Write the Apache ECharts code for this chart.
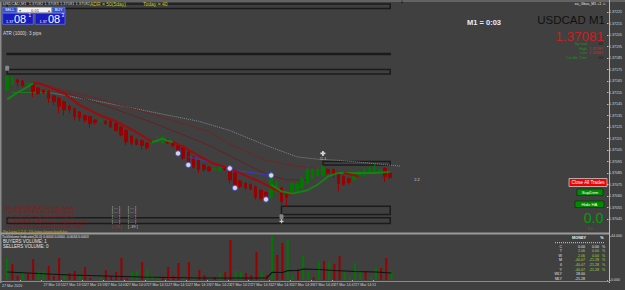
<!DOCTYPE html>
<html>
<head>
<meta charset="utf-8">
<title>USDCAD M1</title>
<script src="https://cdn.jsdelivr.net/npm/echarts@6.0.0/dist/echarts.min.js"></script>
<style>
html, body { margin: 0; padding: 0; background: #404040; }
#chart { width: 625px; height: 290px; }
</style>
</head>
<body>
<div id="chart"></div>
<script>
var chart = echarts.init(document.getElementById('chart'), null, { renderer: 'svg' });

// M1 candles, oldest first: [open, close, low, high]
var candles = [
  [1.37157, 1.37169, 1.37156, 1.37170], [1.37162, 1.37168, 1.37161, 1.37169],
  [1.37166, 1.37164, 1.37160, 1.37167], [1.37165, 1.37161, 1.37160, 1.37166],
  [1.37162, 1.37163, 1.37161, 1.37164], [1.37162, 1.37156, 1.37151, 1.37163],
  [1.37159, 1.37154, 1.37153, 1.37160], [1.37157, 1.37155, 1.37154, 1.37158],
  [1.37156, 1.37150, 1.37146, 1.37157], [1.37152, 1.37147, 1.37144, 1.37153],
  [1.37150, 1.37143, 1.37137, 1.37151], [1.37147, 1.37140, 1.37135, 1.37148],
  [1.37143, 1.37140, 1.37137, 1.37144], [1.37141, 1.37134, 1.37131, 1.37142],
  [1.37138, 1.37133, 1.37130, 1.37139], [1.37135, 1.37131, 1.37129, 1.37136],
  [1.37134, 1.37128, 1.37124, 1.37135], [1.37131, 1.37129, 1.37127, 1.37132],
  [1.37130, 1.37131, 1.37129, 1.37132], [1.37130, 1.37128, 1.37127, 1.37131],
  [1.37130, 1.37125, 1.37124, 1.37131], [1.37128, 1.37122, 1.37121, 1.37129],
  [1.37125, 1.37118, 1.37117, 1.37126], [1.37122, 1.37112, 1.37109, 1.37123],
  [1.37117, 1.37111, 1.37109, 1.37118], [1.37114, 1.37110, 1.37109, 1.37115],
  [1.37113, 1.37109, 1.37105, 1.37114], [1.37111, 1.37107, 1.37105, 1.37112],
  [1.37111, 1.37112, 1.37110, 1.37113], [1.37112, 1.37114, 1.37111, 1.37117],
  [1.37111, 1.37115, 1.37110, 1.37117], [1.37114, 1.37111, 1.37110, 1.37115],
  [1.37112, 1.37109, 1.37107, 1.37113], [1.37109, 1.37104, 1.37103, 1.37110],
  [1.37107, 1.37098, 1.37096, 1.37108], [1.37103, 1.37093, 1.37092, 1.37104],
  [1.37099, 1.37090, 1.37089, 1.37100], [1.37096, 1.37088, 1.37085, 1.37097],
  [1.37092, 1.37088, 1.37086, 1.37093], [1.37090, 1.37087, 1.37086, 1.37091],
  [1.37088, 1.37089, 1.37087, 1.37090], [1.37087, 1.37090, 1.37086, 1.37091],
  [1.37089, 1.37088, 1.37087, 1.37091], [1.37089, 1.37079, 1.37076, 1.37090],
  [1.37085, 1.37072, 1.37070, 1.37086], [1.37078, 1.37073, 1.37072, 1.37079],
  [1.37076, 1.37072, 1.37070, 1.37077], [1.37075, 1.37071, 1.37070, 1.37076],
  [1.37073, 1.37064, 1.37062, 1.37074], [1.37070, 1.37063, 1.37061, 1.37071],
  [1.37068, 1.37062, 1.37061, 1.37069], [1.37064, 1.37080, 1.37063, 1.37085],
  [1.37069, 1.37077, 1.37068, 1.37078], [1.37072, 1.37060, 1.37056, 1.37073],
  [1.37067, 1.37064, 1.37056, 1.37068], [1.37069, 1.37076, 1.37067, 1.37077],
  [1.37070, 1.37075, 1.37069, 1.37077], [1.37072, 1.37080, 1.37071, 1.37082],
  [1.37076, 1.37088, 1.37075, 1.37091], [1.37081, 1.37088, 1.37080, 1.37089],
  [1.37083, 1.37088, 1.37082, 1.37090], [1.37083, 1.37090, 1.37082, 1.37092],
  [1.37088, 1.37085, 1.37084, 1.37089], [1.37088, 1.37083, 1.37081, 1.37089],
  [1.37085, 1.37076, 1.37069, 1.37086], [1.37082, 1.37075, 1.37074, 1.37083],
  [1.37080, 1.37077, 1.37075, 1.37081], [1.37079, 1.37082, 1.37078, 1.37083],
  [1.37082, 1.37086, 1.37081, 1.37087], [1.37083, 1.37088, 1.37082, 1.37089],
  [1.37085, 1.37089, 1.37084, 1.37090], [1.37086, 1.37090, 1.37085, 1.37093],
  [1.37086, 1.37088, 1.37085, 1.37089], [1.37089, 1.37082, 1.37077, 1.37090],
  [1.37085, 1.37081, 1.37080, 1.37086]
];

// tick volume per candle, and colour flag (1 = buyers / green)
var volumes = [22, 16, 4, 8, 6, 21, 9, 9, 14, 4, 22, 4, 7, 9, 5, 13, 2, 1, 2, 10,
  4, 8, 22, 2, 8, 9, 18, 11, 4, 2, 2, 13, 4, 17, 2, 18, 2, 10, 5, 3,
  3, 7, 8, 40, 9, 8, 7, 5, 28, 9, 5, 44, 25, 37, 40, 5, 11, 24, 9, 3,
  19, 19, 19, 16, 24, 9, 3, 17, 8, 9, 3, 12, 12, 22, 9];
var volumeUp = [1, 0, 0, 1, 0, 0, 1, 1, 0, 0, 0, 1, 0, 0, 1, 0, 0, 1, 1, 0,
  0, 0, 0, 0, 1, 1, 0, 1, 1, 1, 0, 0, 0, 0, 1, 0, 1, 0, 0, 1,
  0, 1, 0, 0, 1, 1, 0, 0, 0, 1, 0, 1, 0, 0, 1, 1, 0, 1, 1, 0,
  1, 0, 1, 0, 0, 1, 1, 1, 1, 0, 1, 1, 0, 0, 1];
var volumeMa = [[0, 8], [2, 7.5], [6, 6.5], [12, 5], [19, 4], [26, 3], [37, 2], [50, 2],
  [51, 7.7], [53, 7.5], [54, 9.3], [56, 9.5], [57, 11], [60, 10.5], [63, 9.5],
  [67, 8.5], [71, 8], [74, 7]];

// indicator lines on the price chart: [candle index, price]
var fastUpA = [[0, 1.37149], [2, 1.37155], [4, 1.37160], [5, 1.37163]];
var fastDownA = [[5, 1.37163], [6, 1.37163], [8, 1.37160], [11, 1.37154], [14, 1.37144],
  [18, 1.37135], [21, 1.37130], [24, 1.37123], [27, 1.37115], [28, 1.37112]];
var fastUpB = [[28, 1.37112], [29, 1.37113], [30, 1.37115], [31, 1.37113], [32, 1.37112]];
var fastDownB = [[32, 1.37112], [34, 1.37108], [37, 1.37100], [40, 1.37093], [43, 1.37089],
  [46, 1.37083], [49, 1.37077], [52, 1.37070], [55, 1.37066]];
var trendUp = [[51, 1.37075], [53, 1.37069], [55, 1.37067], [58, 1.37070], [60, 1.37075],
  [62, 1.37082], [64, 1.37085], [67, 1.37085], [71, 1.37085], [74, 1.37086]];
var trendDown = [[65, 1.37085], [68, 1.37082]];
var maMid = [[6, 1.37163], [18, 1.37149], [28, 1.37136], [39, 1.37121], [43, 1.37110],
  [50, 1.37096], [56, 1.37091], [60, 1.37089]];
var maSlow = [[8, 1.37160], [18, 1.37145], [28, 1.37129], [39, 1.37109], [43, 1.37100],
  [50, 1.37084], [54, 1.37079], [58, 1.37079]];
var maLongUp = [[1, 1.37155], [5, 1.37155], [8, 1.37155]];
var maLong = [[8, 1.37155], [18, 1.37147], [28, 1.37138], [37, 1.37130], [43, 1.37122],
  [50, 1.37109], [56, 1.37099], [60, 1.37097], [64, 1.37096], [69, 1.37094], [76, 1.37091]];
var blueLine = [[35, 1.37099], [39, 1.37095], [43, 1.37088], [51, 1.37083]];
var signals = [[33, 1.37102], [35, 1.37092], [43, 1.37089], [44, 1.37072], [50, 1.37062], [51, 1.37083]];
var crossMark = [[61, 1.37102]];
var alertIcons = [[0, 1.37176], [53, 1.37047]];
var alertDots = [[53, 1.37043]];

// supply / demand boxes: [top, bottom, first candle]
var zones = [
  [1.37232, 1.37228, -1],
  [1.37189, 1.37188, -1],
  [1.37175, 1.37171, -1],
  [1.37095, 1.37092, 61],
  [1.37056, 1.37049, 53],
  [1.37046, 1.37041, -1]
];

var priceTicks = [1.37225, 1.37215, 1.37205, 1.37195, 1.37185, 1.37175, 1.37165, 1.37155,
  1.37145, 1.37135, 1.37125, 1.37115, 1.37105, 1.37095, 1.37085, 1.37075, 1.37065,
  1.37055, 1.37045];
var lastPrice = 1.37081;
var firstTimeLabel = '27 Mar 2020';
var timeLabels = ['27 Mar 13:47', '27 Mar 13:51', '27 Mar 13:55', '27 Mar 13:59',
  '27 Mar 14:03', '27 Mar 14:07', '27 Mar 14:11', '27 Mar 14:15', '27 Mar 14:19',
  '27 Mar 14:23', '27 Mar 14:27', '27 Mar 14:31', '27 Mar 14:35', '27 Mar 14:39',
  '27 Mar 14:43', '27 Mar 14:47', '27 Mar 14:51', '27 Mar 14:55'];

var news = ['Mon 10:00 GBP BOE Gov Bailey Speaks', 'Tue 05:30 JPY BOJ Gov Kuroda Speaks',
  'Tue 15:45 USD Final Manufacturing PMI', 'Tue 16:00 EUR ECB President Lagarde Speaks',
  'Tue 17:00 USD ISM Manufacturing PMI Index'];
var newsA = ['[ --- ]', '[ --- ]', '[ --- ]', '[ --- ]', '[ -18 ]'];
var newsB = ['[ --- ]', '[ --- ]', '[ --- ]', '[ --- ]', '[ -39 ]'];

var moneyRows = ['C', 'T', 'W', 'M', '6', 'Y', 'WLY', 'MLY'];
var moneyVal = ['0.00', '2.06', '2.06', '-40.07', '-40.07', '-40.07', '18.00', '-21.28'];
var moneyPct = ['0.00', '0.00', '0.00', '-21.28', '-21.28', '-21.28', '', ''];

var RED = '#990000', GREEN = '#007800';
var FONT = 'Liberation Sans, Arial, sans-serif';
var NARROW = 'Liberation Sans Narrow, Liberation Sans, sans-serif';
var slots = 116;   // bar slots incl. the empty shift on the right
var cats = [];
for (var i = 0; i < slots; i++) cats.push(String(i));
var lastIdx = candles.length - 1;
var labelAt = {};
timeLabels.forEach(function (t, k) { labelAt[3 + 4 * k] = t; });

function line(data, color, width, type, z) {
  return {
    type: 'line', xAxisIndex: 0, yAxisIndex: 0, data: data, symbol: 'none',
    lineStyle: { color: color, width: width, type: type || 'solid' }, z: z || 4, silent: true
  };
}

function txt(x, y, text, size, color, opt) {
  opt = opt || {};
  return {
    type: 'text', z: 60,
    style: {
      x: x, y: y, text: text, fill: color, fontSize: size,
      fontFamily: opt.family || FONT, fontWeight: opt.weight || 'normal',
      align: opt.align || 'left', verticalAlign: 'middle'
    }
  };
}
function box(x, y, w, h, fill, stroke, lw) {
  return {
    type: 'rect', z: 55, shape: { x: x, y: y, width: w, height: h },
    style: { fill: fill, stroke: stroke || null, lineWidth: lw || 0 }
  };
}
function rule(x1, y1, x2, y2, color, lw, dash) {
  return {
    type: 'line', z: 56, shape: { x1: x1, y1: y1, x2: x2, y2: y2 },
    style: { stroke: color, lineWidth: lw || 1, lineDash: dash || null }
  };
}

var g = [];
// window frame
g.push(rule(0, 1, 625, 1, '#858585', 1));
g.push(box(401, 0, 2, 3, '#1e1e1e'));
g.push(box(0, 2, 1.5, 281, '#8a8a8a'));
g.push(rule(609.5, 0, 609.5, 283, '#bdbdbd', 1));
g.push(box(0, 232.5, 610, 2, '#9a9a9a'));
g.push(rule(0, 281.5, 610, 281.5, '#8a8a8a', 1));
// header line
g.push(txt(3, 3.5, 'USDCAD,M1  1.37082 1.37083 1.37081 1.37082', 4, '#d8d8d8'));
g.push(txt(90, 4, 'ADR = 50(5day)', 5, '#c8c820'));
g.push(txt(143, 4, 'Today = 40', 5, '#c8c820'));
// one-click trading panel
g.push(box(2.7, 7.3, 14, 5.4, '#3050d8', '#7088e8', 0.6));
g.push(txt(9.7, 10, 'SELL', 3.8, '#ffffff', { align: 'center' }));
g.push(box(17.3, 7.3, 34.4, 5.4, '#f2f2f2', '#9a9a9a', 0.6));
g.push(txt(20, 10, '\u25BE', 4, '#555555', { align: 'center' }));
g.push(txt(35, 10, '0.01', 4, '#333333', { align: 'center' }));
g.push(txt(49, 10, '\u25B4', 4, '#555555', { align: 'center' }));
g.push(box(52.3, 7.3, 12.7, 5.4, '#3050d8', '#7088e8', 0.6));
g.push(txt(58.6, 10, 'BUY', 3.8, '#ffffff', { align: 'center' }));
g.push(box(2.7, 13.3, 30.6, 11, '#1a1ac0', '#6070e0', 0.8));
g.push(box(35, 13.3, 30, 11, '#1a1ac0', '#6070e0', 0.8));
g.push(txt(6, 21.5, '1.37', 3.8, '#ffffff'));
g.push(txt(14, 19.3, '08', 11, '#ffffff', { family: NARROW }));
g.push(txt(28.5, 15.8, '1', 4.5, '#ffffff'));
g.push(txt(39.5, 21.5, '1.37', 3.8, '#ffffff'));
g.push(txt(48, 19.3, '08', 11, '#ffffff', { family: NARROW }));
g.push(txt(61.5, 15.8, '3', 4.5, '#ffffff'));
g.push(txt(3, 33, 'ATR (1000): 3 pips', 4.6, '#dcdcdc'));
// symbol info block
g.push(txt(606, 4, 'ea_Gbas_M1 +1 \u263A', 3.6, '#e6e6e6', { align: 'right' }));
g.push(txt(467, 22, 'M1 = 0:03', 7.5, '#e8e8ff', { family: NARROW, weight: 'bold' }));
g.push(txt(605, 19.5, 'USDCAD M1', 11.5, '#111111', { align: 'right' }));
g.push(txt(604, 36, '1.37081', 13.5, '#c82020', { align: 'right', family: NARROW }));
var infoL = ['Spread', 'High', 'Low', 'Candle Time'];
var infoV = ['02', '1.37287', '1.36887', '04'];
var infoC = ['#1a1a1a', '#c03030', '#c03030', '#1a1a1a'];
[44, 48.6, 53.2, 57.8].forEach(function (y, k) {
  g.push(txt(587, y, infoL[k], 3.8, '#1f8f1f', { align: 'right' }));
  g.push(txt(603, y, infoV[k], 3.8, infoC[k], { align: 'right' }));
});
// panel buttons
g.push(box(569, 178.5, 38, 8, '#f00000', '#c8c8c8', 0.8));
g.push(txt(588, 182.5, 'Close All Trades', 4.6, '#ffffff', { align: 'center' }));
g.push(box(577, 189, 26, 6.5, '#008a00', '#003c00', 0.8));
g.push(txt(590, 192.3, 'SupDem', 4.3, '#ffffff', { align: 'center' }));
g.push(box(575, 201, 29, 6.5, '#008a00', '#003c00', 0.8));
g.push(txt(589.5, 204.3, 'Hide HA', 4.3, '#ffffff', { align: 'center' }));
g.push(txt(593.5, 218, '0.0', 14, '#00a000', { align: 'center', family: NARROW }));
g.push(txt(590, 229, '-3.5', 3.6, '#00a000', { align: 'center' }));
g.push(txt(417, 179.5, '2.2', 4, '#d0d0d0', { align: 'center' }));
// news block
news.forEach(function (n, k) {
  var y = 207.5 + 4.9 * k;
  g.push(txt(6, y, n, 3.8, '#9b1010'));
  g.push(txt(112, y, newsA[k], 3.8, k === 4 ? '#c03030' : '#c8c8c8'));
  g.push(txt(128, y, newsB[k], 3.8, '#c8c8c8'));
});
g.push(txt(3, 232.2, 'Pip Long 1.2.3 ; 1% https://www.fxsoft.biz', 3.5, '#d0a000'));
// volume window texts
g.push(txt(2, 237.2, 'TickVolume Indicator(20,0) 0.0000 0.0000 -0.0034 0.0003', 3.4, '#e0e0e0'));
g.push(txt(3, 241.9, 'BUYERS VOLUME: 1', 4.5, '#e4e4e4'));
g.push(txt(3, 246.8, 'SELLERS VOLUME: 0', 4.5, '#e4e4e4'));
g.push(txt(2, 285.5, firstTimeLabel, 3.6, '#d0d0d0'));
// money table
g.push(txt(579, 238.3, 'MONEY', 3.8, '#f0f0f0', { align: 'center', weight: 'bold' }));
g.push(txt(602, 238.3, '%', 3.8, '#f0f0f0', { align: 'center', weight: 'bold' }));
g.push(rule(555, 242.7, 605, 242.7, '#cfcfcf', 1, [1, 1]));
[246.7, 251, 255.7, 260.3, 265, 269.7, 274, 278.7].forEach(function (y, k) {
  var col = (k === 0 || k > 5) ? '#e8e8e8' : '#a8d040';
  g.push(txt(562, y, moneyRows[k], 3.6, '#e0e0e0', { align: 'right' }));
  g.push(txt(585, y, moneyVal[k], 3.6, col, { align: 'right' }));
  if (moneyPct[k]) {
    g.push(txt(599, y, moneyPct[k], 3.6, col, { align: 'right' }));
    g.push(txt(603.5, y, '%', 3.6, col, { align: 'center' }));
  }
});

var option = {
  animation: false,
  backgroundColor: '#404040',
  grid: [
    { left: 4.6, top: 0.5, width: 603.2, height: 224.25 },
    { left: 4.6, top: 236, width: 603.2, height: 44 }
  ],
  xAxis: [
    { type: 'category', gridIndex: 0, data: cats, axisLine: { show: false },
      axisTick: { show: false }, axisLabel: { show: false }, splitLine: { show: false } },
    { type: 'category', gridIndex: 1, data: cats, axisLine: { show: false },
      axisTick: { show: true, length: 2, lineStyle: { color: '#aaaaaa' },
        interval: function (idx) { return labelAt[idx] != null; } },
      axisLabel: { show: true, fontSize: 3.6, color: '#d0d0d0', align: 'left', margin: 3,
        fontFamily: FONT,
        interval: function (idx) { return labelAt[idx] != null; },
        formatter: function (v, idx) { return labelAt[idx] || ''; } },
      splitLine: { show: false } }
  ],
  yAxis: [
    { type: 'value', gridIndex: 0, position: 'right', offset: 2, min: 1.37040, max: 1.37235,
      splitLine: { show: false }, axisLine: { show: false },
      axisTick: { show: true, length: 1.5, customValues: priceTicks, lineStyle: { color: '#bbbbbb' } },
      axisLabel: { customValues: priceTicks, fontSize: 3.6, color: '#d8d8d8', margin: 2,
        fontFamily: FONT, formatter: function (v) { return v.toFixed(5); } } },
    { type: 'value', gridIndex: 1, position: 'right', offset: 2, min: 0, max: 44,
      splitLine: { show: false }, axisLine: { show: false },
      axisTick: { show: true, length: 1.5, customValues: [0, 44], lineStyle: { color: '#bbbbbb' } },
      axisLabel: { customValues: [0, 44], fontSize: 3.6, color: '#d8d8d8', margin: 2,
        fontFamily: FONT, formatter: function (v) { return v.toFixed(3); } } }
  ],
  graphic: { elements: g },
  series: [
    {
      type: 'candlestick', xAxisIndex: 0, yAxisIndex: 0, data: candles, barWidth: 3, z: 3,
      itemStyle: { color: GREEN, color0: RED, borderColor: GREEN, borderColor0: RED, borderWidth: 1 },
      markArea: {
        silent: true,
        itemStyle: { color: 'rgba(0,0,0,0)', borderColor: '#1b1b1b', borderWidth: 1.5 },
        data: zones.map(function (zn) {
          return [{ xAxis: zn[2], yAxis: zn[0] }, { xAxis: lastIdx, yAxis: zn[1] }];
        })
      },
      markLine: {
        silent: true, symbol: 'none',
        lineStyle: { color: '#7c7c7c', type: 'solid', width: 1 },
        label: { show: true, position: 'end', distance: 2, formatter: lastPrice.toFixed(5),
          fontSize: 3.8, color: '#202020', backgroundColor: '#f0f0f0', padding: [1, 1, 0, 1],
          fontFamily: FONT },
        data: [{ yAxis: lastPrice }]
      }
    },
    line(maLongUp, '#1e9a1e', 1, 'dotted', 2),
    line(maLong, '#848a90', 1, 'dotted', 2),
    line(maMid, '#6e2626', 1, 'solid', 2),
    line(maSlow, '#642222', 1, 'solid', 2),
    line(blueLine, '#3a3ad0', 1, 'solid', 4),
    line(fastUpA, '#118411', 2, 'solid'),
    line(fastDownA, '#a00a0a', 2, 'solid'),
    line(fastUpB, '#118411', 2, 'solid'),
    line(fastDownB, '#a00a0a', 2, 'solid'),
    line(trendUp, '#118411', 1.8, 'solid'),
    line(trendDown, '#a00a0a', 1.8, 'solid'),
    { type: 'scatter', xAxisIndex: 0, yAxisIndex: 0, data: signals, symbol: 'circle', symbolSize: 5.5,
      z: 6, silent: true, itemStyle: { color: '#ffffff', borderColor: '#3048c8', borderWidth: 1.2 } },
    { type: 'scatter', xAxisIndex: 0, yAxisIndex: 0, data: crossMark, z: 6, silent: true,
      symbol: 'path://M2,0h2v2h2v2h-2v2h-2v-2h-2v-2h2z', symbolSize: 5,
      itemStyle: { color: '#ffffff' },
      label: { show: true, position: 'bottom', distance: 1, formatter: '11 4', fontSize: 3.5,
        color: '#dddddd', fontFamily: FONT } },
    { type: 'scatter', xAxisIndex: 0, yAxisIndex: 0, data: alertIcons, z: 6, silent: true,
      symbol: 'roundRect', symbolSize: [4, 5], itemStyle: { color: '#9a9a9a' } },
    { type: 'scatter', xAxisIndex: 0, yAxisIndex: 0, data: alertDots, z: 6, silent: true,
      symbol: 'path://M2,0h2v2h2v2h-2v2h-2v-2h-2v-2h2z', symbolSize: 4, itemStyle: { color: '#e8e8e8' } },
    {
      type: 'bar', xAxisIndex: 1, yAxisIndex: 1, barWidth: 2, silent: true,
      data: volumes.map(function (v, k) {
        return { value: v, itemStyle: { color: volumeUp[k] ? GREEN : RED } };
      })
    },
    { type: 'line', xAxisIndex: 1, yAxisIndex: 1, data: volumeMa, symbol: 'none', silent: true,
      lineStyle: { color: '#111111', width: 1.2 }, z: 4 }
  ]
};

chart.setOption(option);
</script>
</body>
</html>
